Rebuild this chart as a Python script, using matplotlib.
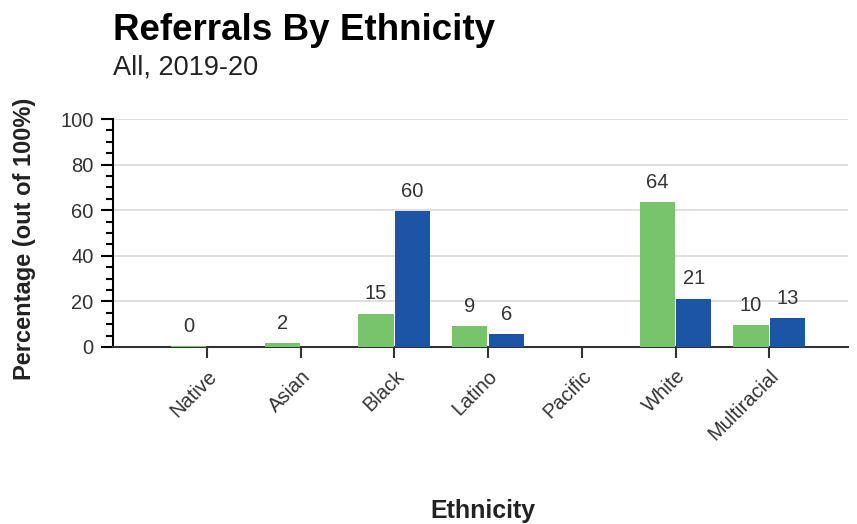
"""
Referrals By Ethnicity -- grouped bar chart, two series per category.
"""
import matplotlib
matplotlib.use("Agg")
import matplotlib.pyplot as plt
import numpy as np
from matplotlib.ticker import MultipleLocator

plt.rcParams["font.family"] = ["Liberation Sans", "DejaVu Sans"]

CATEGORIES = ["Native", "Asian", "Black", "Latino", "Pacific", "White", "Multiracial"]
# None = no bar drawn for that category
GREEN_VALUES = [0.4, 1.6, 14.6, 9.2, None, 63.7, 9.6]
BLUE_VALUES = [None, None, 59.6, 5.6, None, 21.2, 12.6]

GREEN = "#78c46a"
BLUE = "#1c55a6"

fig = plt.figure(figsize=(8.57, 5.24), dpi=100)
ax = fig.add_axes([0.1319, 0.3378, 0.8576, 0.4351])

x = np.arange(len(CATEGORIES))
w = 0.39


def draw(values, offset, color):
    for xi, v in zip(x, values):
        if v is None:
            continue
        ax.bar(xi + offset, v, width=w * 0.96, color=color, zorder=3)
        ax.text(xi + offset, v + 4.5, f"{round(v)}", ha="center", va="bottom",
                fontsize=14.5, color="#333333", zorder=4)


draw(GREEN_VALUES, -w / 2, GREEN)
draw(BLUE_VALUES, w / 2, BLUE)

ax.set_xlim(-1.0, 6.84)
ax.set_ylim(0, 100)
ax.yaxis.set_major_locator(MultipleLocator(20))
ax.yaxis.set_minor_locator(MultipleLocator(5))
ax.grid(axis="y", color="#d9d9d9", linewidth=1.2, zorder=0)
ax.set_axisbelow(True)

for s in ("top", "right"):
    ax.spines[s].set_visible(False)
ax.spines["left"].set_color("black")
ax.spines["left"].set_linewidth(1.5)
ax.spines["bottom"].set_color("#333333")
ax.spines["bottom"].set_linewidth(1.5)

ax.tick_params(axis="y", which="major", length=9, width=1.5, labelsize=14.5,
               pad=5, colors="black", labelcolor="#333333")
ax.tick_params(axis="y", which="minor", length=5, width=1.5, colors="black")
ax.tick_params(axis="x", length=8, width=1.5, colors="#333333", pad=6)

ax.set_xticks(x)
ax.set_xticklabels(CATEGORIES, rotation=45, ha="right", rotation_mode="anchor",
                   fontsize=14.5, color="#333333")

fig.text(113 / 857, 1 - 13 / 524, "Referrals By Ethnicity", fontsize=26.5,
         fontweight="bold", ha="left", va="top", color="black")
fig.text(113 / 857, 1 - 54 / 524, "All, 2019-20", fontsize=19.5,
         ha="left", va="top", color="#222222")
fig.text(483 / 857, 1 - 511 / 524, "Ethnicity", fontsize=18,
         fontweight="bold", ha="center", va="center", color="#222222")
fig.text(25 / 857, 1 - 239 / 524, "Percentage (out of 100%)", fontsize=17,
         fontweight="bold", ha="center", va="center", rotation=90, color="#222222")

fig.savefig("out.png", dpi=100)
